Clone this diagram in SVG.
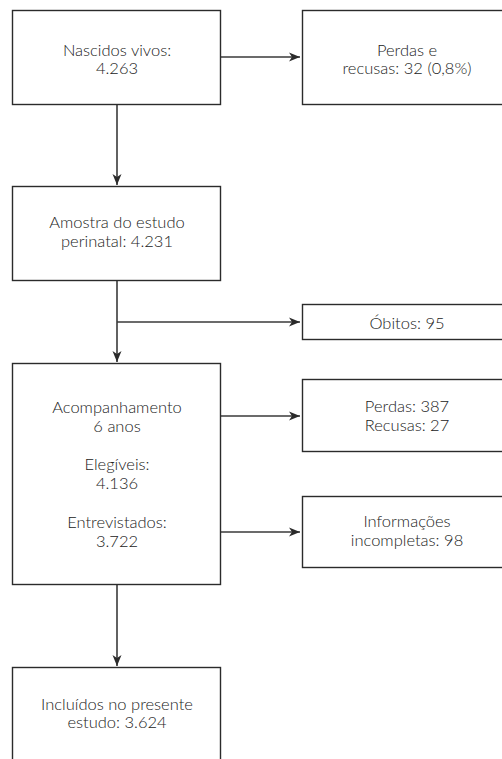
<svg xmlns="http://www.w3.org/2000/svg" width="502" height="759" viewBox="0 0 502 759">
<defs>
<marker id="arr" markerWidth="12" markerHeight="12" refX="11" refY="5.5" orient="auto" markerUnits="userSpaceOnUse">
<path d="M0,1 L11,5.5 L0,10 L3,5.5 Z" fill="#2b2b2b"/>
</marker>
<style>
.box{fill:#fff;stroke:#2b2b2b;stroke-width:1.4}
.t{font-family:Lato,"Liberation Sans",sans-serif;font-weight:300;font-size:16.5px;fill:#222;text-anchor:middle}
.c{fill:none;stroke:#3a3a3a;stroke-width:1.6}
</style>
</defs>
<rect width="502" height="759" fill="#fff"/>
<g id="connectors">
<line class="c" x1="221" y1="57" x2="300" y2="57" marker-end="url(#arr)"/>
<line class="c" x1="117" y1="105" x2="117" y2="185" marker-end="url(#arr)"/>
<line class="c" x1="117" y1="281" x2="117" y2="362" marker-end="url(#arr)"/>
<line class="c" x1="117" y1="322" x2="300" y2="322" marker-end="url(#arr)"/>
<line class="c" x1="221" y1="416" x2="300" y2="416" marker-end="url(#arr)"/>
<line class="c" x1="221" y1="532" x2="300" y2="532" marker-end="url(#arr)"/>
<line class="c" x1="117" y1="585" x2="117" y2="666" marker-end="url(#arr)"/>
</g>
<g id="n1">
<rect class="box" x="12.5" y="10.5" width="208" height="94"/>
<text class="t" x="117" y="55.5">Nascidos vivos:</text>
<text class="t" x="117" y="74">4.263</text>
</g>
<g id="n2">
<rect class="box" x="302.5" y="10.5" width="210" height="94"/>
<text class="t" x="407" y="55.5">Perdas e</text>
<text class="t" x="407" y="74">recusas: 32 (0,8%)</text>
</g>
<g id="n3">
<rect class="box" x="12.5" y="186.5" width="208" height="94"/>
<text class="t" x="117" y="228.3">Amostra do estudo</text>
<text class="t" x="117" y="246.7">perinatal: 4.231</text>
</g>
<g id="n4">
<rect class="box" x="302.5" y="304.5" width="210" height="35"/>
<text class="t" x="407" y="329.3">Óbitos: 95</text>
</g>
<g id="n5">
<rect class="box" x="12.5" y="363.5" width="208" height="221"/>
<text class="t" x="117" y="412.7">Acompanhamento</text>
<text class="t" x="117" y="431.7">6 anos</text>
<text class="t" x="117" y="470">Elegíveis:</text>
<text class="t" x="117" y="489">4.136</text>
<text class="t" x="117" y="528.3">Entrevistados:</text>
<text class="t" x="117" y="547.3">3.722</text>
</g>
<g id="n6">
<rect class="box" x="302.5" y="379.5" width="210" height="72"/>
<text class="t" x="407" y="412.3">Perdas: 387</text>
<text class="t" x="407" y="431.3">Recusas: 27</text>
</g>
<g id="n7">
<rect class="box" x="302.5" y="496.5" width="210" height="71"/>
<text class="t" x="407" y="526.7">Informações</text>
<text class="t" x="407" y="545.7">incompletas: 98</text>
</g>
<g id="n8">
<rect class="box" x="12.5" y="667.5" width="208" height="120"/>
<text class="t" x="117" y="710">Incluídos no presente</text>
<text class="t" x="117" y="728.3">estudo: 3.624</text>
</g>
</svg>
